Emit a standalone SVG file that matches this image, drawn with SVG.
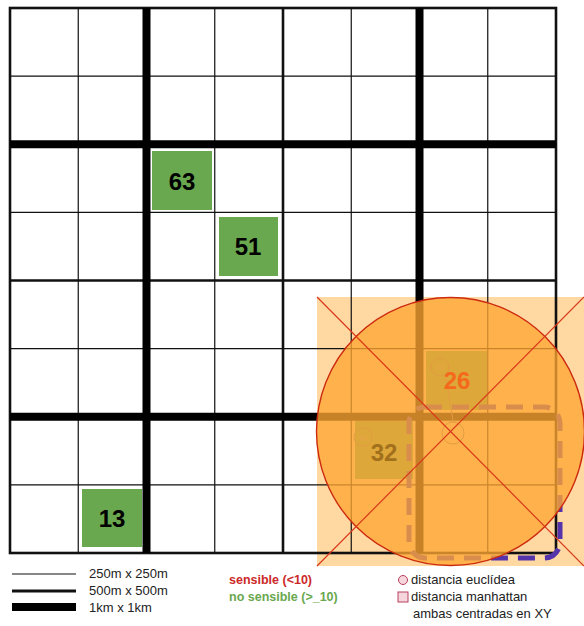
<svg xmlns="http://www.w3.org/2000/svg" width="584" height="626" viewBox="0 0 584 626">
<style>
.thin{stroke:#111;stroke-width:1.2;fill:none}
.mid{stroke:#111;stroke-width:2.6;fill:none}
.thick{stroke:#000;stroke-width:8;fill:none}
.cell{fill:#6aa84f}
.num{font-family:"Liberation Sans",Arial,sans-serif;font-weight:bold;font-size:24px;text-anchor:middle}
.leg{font-family:"Liberation Sans",Arial,sans-serif;font-size:13px;fill:#222}
.legb{font-family:"Liberation Sans",Arial,sans-serif;font-size:12.5px;font-weight:bold}
.small{font-family:"Liberation Sans",Arial,sans-serif;font-size:8px;fill:#999;text-anchor:middle}
</style>
<rect width="584" height="626" fill="#fff"/>
<rect id="zone-square" x="317" y="297" width="267" height="269" fill="#ffd8a2"/>
<g id="cells">
<g id="c63"><rect class="cell" x="152" y="151" width="60" height="59"/><text class="num" x="182" y="190">63</text></g>
<g id="c51"><rect class="cell" x="219" y="217" width="59" height="59"/><text class="num" x="248" y="255">51</text></g>
<g id="c13"><rect class="cell" x="82" y="489" width="60" height="58"/><text class="num" x="112" y="527">13</text></g>
<g id="c26"><rect class="cell" x="426" y="351" width="61" height="59"/></g>
<g id="c32"><rect class="cell" x="355" y="421" width="58" height="58"/></g>
</g>
<g id="grid">
<path class="thin" d="M78.25 8V553M214.75 8V553M351.25 8V553M487.75 8V553M10 76.1H556M10 212.4H556M10 348.6H556M10 484.9H556"/>
<path class="mid" d="M283 8V553M10 280.5H556"/>
<rect class="mid" x="10" y="8" width="546" height="545"/>
<path class="thick" d="M146.5 8V553M419.5 8V553M10 144.25H556M10 416.75H556"/>
</g>
<g id="markers" stroke="#777" fill="none" stroke-width="1">
<circle cx="440" cy="367" r="9"/>
<text class="small" x="440" y="370" stroke="none">22</text>
<circle cx="363" cy="437" r="9"/>
<text class="small" x="363" y="440" stroke="none">32</text>
<circle cx="453" cy="433" r="11"/>
<path d="M446 377L453 421M450 421H456"/>
</g>
<rect id="manhattan" x="409" y="407" width="151" height="151" rx="16" fill="none" stroke="#5533aa" stroke-width="5" stroke-dasharray="17 10"/>
<g id="euclid">
<circle cx="450.5" cy="431.5" r="134" fill="#ffa733" fill-opacity="0.78"/>
<circle cx="450.5" cy="431.5" r="134" fill="none" stroke="#cc2a10" stroke-width="1.4"/>
</g>
<text class="num" x="457" y="389" fill="#f5691c">26</text>
<text class="num" x="384" y="461" fill="#a2701c">32</text>
<g id="connectors" stroke="#d9381a" stroke-width="1.2">
<line x1="317" y1="297" x2="584" y2="566"/>
<line x1="584" y1="297" x2="317" y2="566"/>
</g>
<g id="legend">
<line x1="12" y1="574" x2="76" y2="574" stroke="#111" stroke-width="1.2"/>
<line x1="12" y1="591" x2="76" y2="591" stroke="#111" stroke-width="3"/>
<line x1="12" y1="607" x2="76" y2="607" stroke="#000" stroke-width="8"/>
<text class="leg" x="89" y="578">250m x 250m</text>
<text class="leg" x="89" y="595">500m x 500m</text>
<text class="leg" x="89" y="612">1km x 1km</text>
<text class="legb" x="229" y="584" fill="#cc2929">sensible (&lt;10)</text>
<text class="legb" x="229" y="601" fill="#6aa84f">no sensible (&gt;_10)</text>
<circle cx="403" cy="580" r="4.5" fill="#f6d6dc" stroke="#b84060" stroke-width="1"/>
<rect x="398" y="592" width="10" height="10" fill="#f6d6dc" stroke="#b84060" stroke-width="1"/>
<text class="leg" x="411" y="584">distancia euclídea</text>
<text class="leg" x="411" y="601">distancia manhattan</text>
<text class="leg" x="413" y="618">ambas centradas en XY</text>
</g>
</svg>
